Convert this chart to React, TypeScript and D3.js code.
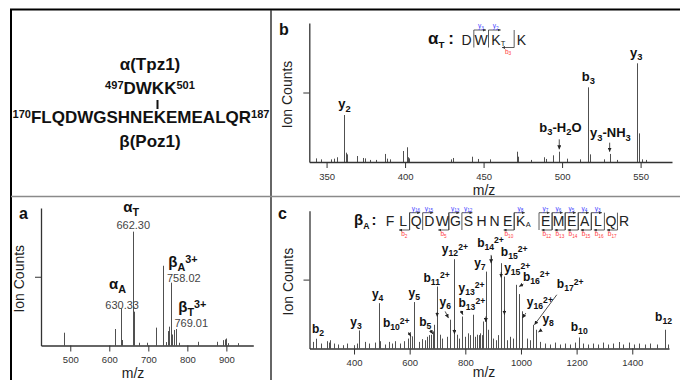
import React, { useRef, useEffect } from 'react';
import * as d3 from 'd3';

const FONT = '"Liberation Sans", Arial, sans-serif';

// ---- panel a : precursor scan ----
const ticksA = [500, 600, 700, 800, 900];
const peaksA: [number, number][] = [
  [484.6, 9.3], [614.6, 12], [629.2, 27], [631.8, 4], [661.5, 82.8], [663.8, 24.6],
  [677, 2], [697.4, 2], [719, 13], [738.5, 58], [745.4, 2.5], [749.7, 10.5], [753.8, 13.7],
  [757.4, 45.7], [761.5, 8], [765.9, 11.3], [770.3, 12], [778.7, 2], [828.2, 2.7], [877, 2.7],
  [892.3, 3.9], [896.7, 4.4], [899.2, 5.1], [903.6, 1.7], [930.8, 1.7],
];
const labelsA: [string, number, number][] = [
  ['α_{T}', 635.9, 97.1], ['α_{A}', 599.2, 41.1], ['β_{A}^{3+}', 751.3, 57], ['β_{T}^{3+}', 776.9, 24.3],
];
const massesA: [string, number, number][] = [
  ['662.30', 661.5, 84.7], ['630.33', 633, 26.5], ['758.02', 791, 46.3], ['769.01', 810, 13.5],
];

// ---- panel b : alpha peptide MS/MS ----
const ticksB = [350, 400, 450, 500, 550];
const peaksB: [number, number][] = [
  [343.2, 2.6], [346.2, 1.9], [352.7, 1.9], [354.9, 2.4], [356.4, 3.4], [361, 33.8], [362.3, 6.7],
  [363, 5.5], [369.1, 4.3], [373, 2.9], [374.2, 2.6], [377.6, 1.5], [381.5, 1.5], [387, 5.8],
  [388.3, 2.4], [390.4, 1.9], [398.9, 7.9], [401.1, 10.6], [401.9, 3.4], [402.7, 2.6], [429.3, 1.9],
  [430.4, 2.9], [442.9, 3.8], [446.7, 2.2], [454.2, 1.9], [471.2, 7.4], [471.9, 3.8], [480.4, 1.5],
  [488.2, 3.4], [489.5, 2.2], [494.2, 4.8], [498.2, 7.4], [503.2, 2.4], [511.7, 1.9], [516.3, 53.7],
  [517.6, 5.5], [526.5, 1.9], [530.3, 5.8], [535, 1.5], [547.8, 71], [548.9, 20.6], [551, 1.9],
  [553.2, 1.5],
];
const labelsB: [string, number, number][] = [
  ['y_{2}', 357.5, 38.6], ['b_{3}', 512.5, 58.3], ['y_{3}', 543.3, 75.8],
  ['b_{3}-H_{2}O', 485.5, 21.8], ['y_{3}-NH_{3}', 517.8, 17.8],
];
const arrowsB: [number, number, number, number][] = [
  [498.2, 16.3, 498.2, 9.1], [530.3, 13.9, 530.3, 7.4],
];
const seqAlpha = ['D', 'W', 'K', 'K'];
const alphaLink = 2;
const alphaY = [3, 2];
const alphaB = [3];

// ---- panel c : beta peptide MS/MS ----
const ticksC = [400, 600, 800, 1000, 1200, 1400];
const peaksC: [number, number][] = [
  [252.3, 4.8], [264, 7.1], [281, 3.6], [302.6, 5.3], [308.6, 4.3], [314.6, 6], [326.5, 3.6],
  [340.9, 2.9], [360, 2.4], [374.4, 3.6], [398.4, 2.4], [410.3, 3.6], [418.7, 13.1], [440.3, 4.8],
  [452.3, 3.6], [476.2, 4.3], [488, 32.9], [494.2, 5.3], [512.1, 2.9], [524.1, 4.8], [536, 3.6],
  [548, 5.3], [566, 3.6], [578, 5.3], [592.3, 7.2], [601.9, 10], [608, 8.8], [617.3, 33.7],
  [631.8, 4.8], [643.8, 6.8], [655.7, 6], [661.8, 8.5], [667.8, 9.7], [676, 10], [683.4, 12.4],
  [689, 17.2], [698.9, 45], [709.6, 10], [715.7, 7.2], [733.6, 8.5], [746.6, 20.9], [761, 64.8],
  [769.6, 10], [775.5, 7.2], [789.7, 23.2], [799.5, 8.5], [811.3, 11], [817.4, 9.7], [827, 24.5],
  [835.4, 8.5], [841.5, 10], [847.4, 9.7], [853.3, 11], [859.3, 9.7], [863, 19.6], [873.8, 55.8],
  [883, 13.6], [892.8, 67], [901.2, 7.2], [910.8, 6], [919.2, 9.7], [927.6, 61.9], [940.6, 52.2],
  [949, 6], [961, 8.5], [973, 7.2], [982.6, 46.2], [994.5, 39.5], [1003, 27], [1021, 7.2],
  [1032.9, 6], [1044.7, 17.2], [1054.4, 13.6], [1068.8, 4.8], [1086.8, 3.6], [1104.7, 2.9],
  [1122.7, 4.3], [1140.6, 2.9], [1158.6, 3.6], [1176.6, 2.9], [1194.5, 4.3], [1208.9, 8],
  [1224.5, 3.6], [1242.4, 2.9], [1260.4, 3.6], [1278.3, 2.9], [1296.3, 4.3], [1314.3, 2.9],
  [1332.2, 3.6], [1352.6, 4.7], [1368.2, 2.9], [1389.7, 4.3], [1406.4, 2.9], [1425.6, 3.6],
  [1446, 2.9], [1463.9, 3.6], [1487.9, 2.9], [1517.8, 13.6], [1529.8, 2.9],
];
const labelsC: [string, number, number][] = [
  ['b_{2}', 248.8, 11.4], ['y_{3}', 386.4, 16], ['y_{4}', 464.3, 37], ['b_{10}^{2+}', 503.8, 15.4],
  ['y_{5}', 595.8, 37.7], ['b_{5}', 634.2, 16], ['b_{11}^{2+}', 649.6, 48.6], ['y_{6}', 707.1, 30.5],
  ['y_{12}^{2+}', 715.7, 69.2], ['y_{13}^{2+}', 775.4, 41.3], ['b_{13}^{2+}', 775.4, 29.8],
  ['y_{7}', 831.8, 59.5], ['b_{14}^{2+}', 842.5, 73.9], ['b_{15}^{2+}', 927.6, 67.4],
  ['y_{15}^{2+}', 939.5, 55.4], ['b_{16}^{2+}', 1007, 49.3], ['b_{17}^{2+}', 1128.8, 43.8],
  ['y_{16}^{2+}', 1021, 30.5], ['y_{8}', 1077, 18.5], ['b_{10}', 1179, 12.9], ['b_{12}', 1482, 20.1],
];
const arrowsC: [number, number, number, number][] = [
  [595.8, 11.9, 604.4, 8.8], [673.7, 13.6, 683.4, 10.5], [698.9, 26.4, 698.9, 23.2],
  [727.6, 26.9, 739.4, 22.1], [761, 14.1, 761, 10.5], [785, 27.4, 791.2, 24.5],
  [873.8, 23.2, 873.8, 19.2], [892.8, 67.9, 892.8, 61.9], [928.7, 55.4, 928.7, 51.5],
  [940.6, 28.1, 940.6, 24.5], [1008.8, 46.7, 993.4, 45], [1017.5, 25.7, 1005.2, 22.1],
  [1128.8, 39, 1048.3, 17.2], [1074.9, 13.6, 1062.7, 11.9],
];
const seqBeta = 'FLQDWGSHNEKEMEALQR'.split('');
const betaLink = 10;
const betaY = [16, 15, 13, 12, 8, 7, 6, 5, 4, 3];
const betaB = [2, 5, 10, 12, 13, 14, 15, 16, 17];

const BLUE = '#3f3fff';
const RED = '#ff3b3b';

function richText(g: any, str: string, x: number, y: number, size: number, weight = 'bold', fill = '#111', anchor = 'start', small = 0.72) {
  const t = g.append('text')
    .attr('x', x).attr('y', y)
    .attr('font-family', FONT).attr('font-size', size)
    .attr('font-weight', weight).attr('fill', fill)
    .attr('text-anchor', anchor);
  const re = /([_^])\{([^}]*)\}|([^_^]+)/g;
  let cur = 0;
  let m: any;
  while ((m = re.exec(str))) {
    let target = 0, fs = size, txt = m[3];
    if (m[1] === '_') { target = size * 0.25; fs = size * small; txt = m[2]; }
    else if (m[1] === '^') { target = -size * 0.3; fs = size * small; txt = m[2]; }
    t.append('tspan').attr('dy', target - cur).attr('font-size', fs).text(txt);
    cur = target;
  }
  return t;
}

function spectrum(svg: any, o: any) {
  const x = d3.scaleLinear().domain(o.domain).range(o.xr);
  const y = d3.scaleLinear().domain([0, 100]).range([o.base, o.top]);
  const g = svg.append('g');

  g.selectAll('line.pk').data(o.peaks).join('line')
    .attr('class', 'pk')
    .attr('x1', (d: any) => Math.round(x(d[0])) + 0.5)
    .attr('x2', (d: any) => Math.round(x(d[0])) + 0.5)
    .attr('y1', o.base)
    .attr('y2', (d: any) => y(d[1]))
    .attr('stroke', '#505050').attr('stroke-width', 1);

  const xa = g.append('g').attr('transform', `translate(0,${o.base})`)
    .call(d3.axisBottom(x).tickValues(o.ticks).tickSize(6).tickSizeOuter(0).tickPadding(5).tickFormat(d3.format('d')));
  const ya = g.append('g').attr('transform', `translate(${o.xr[0]},0)`)
    .call(d3.axisLeft(y).tickValues([50]).tickSize(6).tickSizeOuter(0).tickFormat(() => ''));
  [xa, ya].forEach((a) => {
    a.select('.domain').attr('stroke', '#333').attr('stroke-width', 1.3);
    a.selectAll('.tick line').attr('stroke', '#333');
    a.selectAll('.tick text').attr('font-family', FONT).attr('font-size', 9.5).attr('fill', '#333');
  });

  g.append('text')
    .attr('transform', `translate(${o.xr[0] - 17},${(o.base + o.top) / 2 + 2}) rotate(-90)`)
    .attr('text-anchor', 'middle').attr('font-family', FONT).attr('font-size', 14).attr('fill', '#222')
    .text('Ion Counts');
  g.append('text')
    .attr('x', o.mzX).attr('y', o.mzY)
    .attr('text-anchor', 'middle').attr('font-family', FONT).attr('font-size', 14).attr('fill', '#222')
    .text('m/z');
  g.append('text')
    .attr('x', o.letterX).attr('y', o.letterY)
    .attr('font-family', FONT).attr('font-size', 16).attr('font-weight', 'bold').attr('fill', '#111')
    .text(o.letter);

  (o.labels || []).forEach((l: any) => richText(g, l[0], x(l[1]), y(l[2]), o.labelSize));
  (o.arrows || []).forEach((a: any) => {
    g.append('line')
      .attr('x1', x(a[0])).attr('y1', y(a[1])).attr('x2', x(a[2])).attr('y2', y(a[3]))
      .attr('stroke', '#222').attr('stroke-width', 0.8).attr('marker-end', 'url(#ah)');
  });
  return { x, y, g };
}

function sequence(svg: any, o: any) {
  const n = o.letters.length;
  const slot = (i: number) => i + (i > o.link ? o.gap : 0);
  const sx = d3.scaleLinear().domain([0, slot(n - 1)]).range(o.xr);
  const step = sx(1) - sx(0);
  const g = svg.append('g');

  richText(g, o.title, o.titleX, o.baseY - 1, o.titleSize, 'bold', '#111', 'start', 0.58);
  g.append('text').attr('x', o.colonX).attr('y', o.baseY - 1)
    .attr('font-family', FONT).attr('font-size', o.titleSize).attr('font-weight', 'bold').attr('fill', '#111')
    .attr('text-anchor', 'middle').text(':');

  o.letters.forEach((c: string, i: number) => {
    g.append('text').attr('x', sx(slot(i))).attr('y', o.baseY)
      .attr('text-anchor', 'middle').attr('font-family', FONT).attr('font-size', 14).attr('fill', '#222')
      .text(c);
  });
  g.append('text').attr('x', sx(slot(o.link)) + 5).attr('y', o.baseY + 1)
    .attr('font-family', FONT).attr('font-size', 7.5).attr('fill', '#222').text(o.linkSub);

  const cut = (k: number) => sx(slot(k)) - step / 2; // cleavage before 0-based residue k
  const arm = step - 2.5;
  const vline = (cx: number) => g.append('line').attr('x1', cx).attr('x2', cx)
    .attr('y1', o.topY).attr('y2', o.botY).attr('stroke', '#333').attr('stroke-width', 0.8);

  o.yIons.forEach((num: number) => {
    const cx = cut(n - num);
    vline(cx);
    g.append('line').attr('x1', cx).attr('x2', cx + arm).attr('y1', o.topY).attr('y2', o.topY)
      .attr('stroke', '#333').attr('stroke-width', 0.8).attr('marker-end', 'url(#ahs)');
    richText(g, `y_{${num}}`, cx + arm / 2 + 1, o.topY - 2, 6.5, 'normal', BLUE, 'middle');
  });
  o.bIons.forEach((num: number) => {
    const cx = cut(num);
    vline(cx);
    g.append('line').attr('x1', cx).attr('x2', cx - arm).attr('y1', o.botY).attr('y2', o.botY)
      .attr('stroke', '#333').attr('stroke-width', 0.8).attr('marker-end', 'url(#ahs)');
    richText(g, `b_{${num}}`, cx - arm / 2, o.botY + 6, 6.5, 'normal', RED, 'middle');
  });
}

const App = () => {
  const svgRef = useRef<SVGSVGElement>(null);

  useEffect(() => {
    const svg = d3.select(svgRef.current);
    svg.selectAll('*').remove();

    const defs = svg.append('defs');
    defs.append('marker').attr('id', 'ah').attr('viewBox', '0 0 6 6').attr('refX', 6).attr('refY', 3)
      .attr('markerWidth', 4).attr('markerHeight', 4).attr('markerUnits', 'userSpaceOnUse').attr('orient', 'auto')
      .append('path').attr('d', 'M0,0L6,3L0,6Z').attr('fill', '#222');
    defs.append('marker').attr('id', 'ahs').attr('viewBox', '0 0 6 6').attr('refX', 6).attr('refY', 3)
      .attr('markerWidth', 3).attr('markerHeight', 3).attr('markerUnits', 'userSpaceOnUse').attr('orient', 'auto')
      .append('path').attr('d', 'M0,0L6,3L0,6Z').attr('fill', '#333');

    // frame
    svg.append('line').attr('x1', 10).attr('x2', 680).attr('y1', 9.5).attr('y2', 9.5).attr('stroke', '#000').attr('stroke-width', 2);
    svg.append('line').attr('x1', 11).attr('x2', 11).attr('y1', 9).attr('y2', 380).attr('stroke', '#000').attr('stroke-width', 2);
    svg.append('line').attr('x1', 271).attr('x2', 271).attr('y1', 10).attr('y2', 380).attr('stroke', '#333').attr('stroke-width', 1.5);
    svg.append('line').attr('x1', 11).attr('x2', 680).attr('y1', 196.5).attr('y2', 196.5).attr('stroke', '#8a8a8a').attr('stroke-width', 1.5);

    // crosslink scheme
    const t = svg.append('g').attr('font-family', FONT).attr('font-weight', 'bold').attr('fill', '#111');
    t.append('text').attr('x', 150).attr('y', 70).attr('text-anchor', 'middle').attr('font-size', 17).text('α(Tpz1)');
    richText(t, '^{497}DWKK^{501}', 150, 94, 17, 'bold', '#111', 'middle', 0.65);
    t.append('line').attr('x1', 157.5).attr('x2', 157.5).attr('y1', 100).attr('y2', 109).attr('stroke', '#111').attr('stroke-width', 2);
    richText(t, '^{170}FLQDWGSHNEKEMEALQR^{187}', 141, 122.7, 17, 'bold', '#111', 'middle', 0.65);
    t.append('text').attr('x', 150).attr('y', 146.7).attr('text-anchor', 'middle').attr('font-size', 17).text('β(Poz1)');

    // panel a
    const a = spectrum(svg, {
      domain: [425, 969], xr: [41, 253.3], base: 345.5, top: 208, peaks: peaksA, ticks: ticksA,
      mzX: 133, mzY: 378, letter: 'a', letterX: 19, letterY: 218.5, labels: labelsA, labelSize: 15,
    });
    massesA.forEach((m) => {
      a.g.append('text').attr('x', a.x(m[1])).attr('y', a.y(m[2])).attr('text-anchor', 'middle')
        .attr('font-family', FONT).attr('font-size', 11).attr('fill', '#444').text(m[0]);
    });

    // panel b
    spectrum(svg, {
      domain: [339, 570], xr: [309.3, 672], base: 162, top: 23, peaks: peaksB, ticks: ticksB,
      mzX: 484, mzY: 194.5, letter: 'b', letterX: 279, letterY: 34.5, labels: labelsB, labelSize: 13, arrows: arrowsB,
    });
    sequence(svg, {
      letters: seqAlpha, link: alphaLink, linkSub: 'T', gap: 0.75, xr: [466.5, 521.5], baseY: 45,
      topY: 30, botY: 47.5, yIons: alphaY, bIons: alphaB, title: 'α_{T}', titleX: 428, titleSize: 17, colonX: 451,
    });

    // panel c
    spectrum(svg, {
      domain: [240, 1532], xr: [309.5, 669], base: 348.5, top: 210.7, peaks: peaksC, ticks: ticksC,
      mzX: 484, mzY: 377, letter: 'c', letterX: 278, letterY: 218.5, labels: labelsC, labelSize: 12, arrows: arrowsC,
    });
    sequence(svg, {
      letters: seqBeta, link: betaLink, linkSub: 'A', gap: 0.9, xr: [390, 624], baseY: 226,
      topY: 212.7, botY: 230, yIons: betaY, bIons: betaB, title: 'β_{A}', titleX: 354, titleSize: 15, colonX: 374,
    });
  }, []);

  return (
    <div style={{ position: 'absolute', left: 0, top: 0 }}>
      <svg ref={svgRef} width={680} height={380} style={{ display: 'block', background: '#fff' }}></svg>
    </div>
  );
};

export default App;
